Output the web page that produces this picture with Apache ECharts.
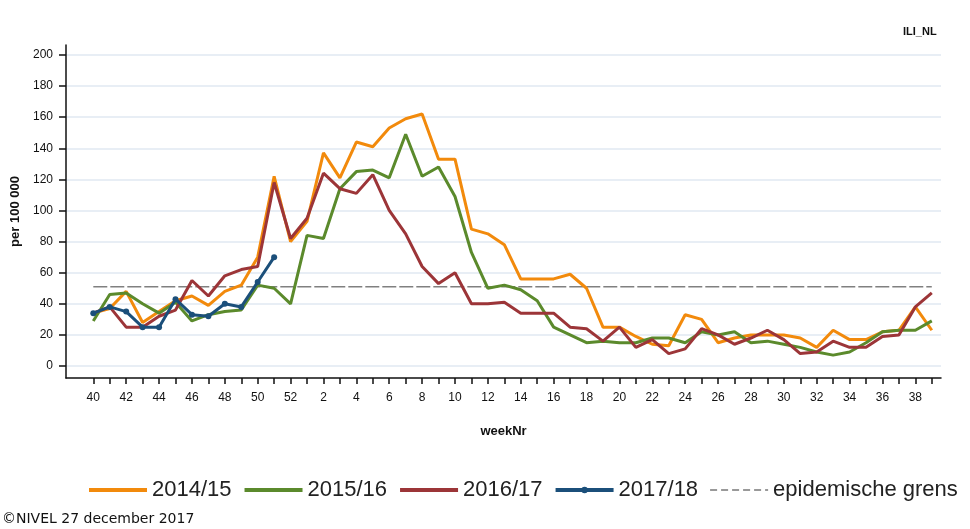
<!DOCTYPE html>
<html>
<head>
<meta charset="utf-8">
<script src="https://cdn.jsdelivr.net/npm/echarts@6/dist/echarts.min.js"></script>
<style>
html,body{margin:0;padding:0;background:#fff;}
#chart{width:970px;height:529px;}
</style>
</head>
<body>
<div id="chart"></div>
<script>
// Week labels (season runs week 40 .. week 39)
const weeks = [40,41,42,43,44,45,46,47,48,49,50,51,52,1,2,3,4,5,6,7,8,9,10,11,12,13,14,15,16,17,18,19,20,21,22,23,24,25,26,27,28,29,30,31,32,33,34,35,36,37,38,39];
const tickLabelWeeks = [40,42,44,46,48,50,52,2,4,6,8,10,12,14,16,18,20,22,24,26,28,30,32,34,36,38];
const yTicks = [0,20,40,60,80,100,120,140,160,180,200];

const s2014 = [34,37,48,28,35,42,45,39,48,52,70,122,80,93,137,121,144,141,153,159,162,133,133,88,85,78,56,56,56,59,50,25,25,19,14,13,33,30,15,18,20,20,20,18,12,23,17,17,22,23,38,23];
const s2015 = [29,46,47,40,34,41,29,33,35,36,52,50,40,84,82,114,125,126,121,149,122,128,109,73,50,52,49,42,25,20,15,16,15,15,18,18,15,22,20,22,15,16,14,12,9,7,9,15,22,23,23,29];
const s2016 = [34,38,25,25,32,36,55,45,58,62,64,118,82,95,124,114,111,123,100,85,64,53,60,40,40,41,34,34,34,25,24,16,25,12,17,8,11,24,20,14,18,23,17,8,9,16,12,12,19,20,38,47];
const s2017 = [34,38,35,25,25,43,33,32,40,38,54,70];
const epidemicThreshold = 51;

const seriesNames = ['2014/15','2015/16','2016/17','2017/18','epidemische grens'];

function pairs(arr){ return arr.map((v,i)=>[i,v]); }
const weekIndex = w => weeks.indexOf(w);

const sans = "'Liberation Sans',Arial,sans-serif";

const chart = echarts.init(document.getElementById('chart'), null, {renderer:'canvas'});
chart.setOption({
  animation:false,
  backgroundColor:'#ffffff',
  grid:{left:66, right:29, top:45, bottom:151, containLabel:false},
  xAxis:{
    type:'value', min:-1.66, max:51.56,
    name:'weekNr', nameLocation:'middle', nameGap:47,
    nameTextStyle:{fontFamily:sans, fontSize:13, color:'#111', fontWeight:'bold'},
    axisLine:{show:true, onZero:false, lineStyle:{color:'#111', width:1.5}},
    axisTick:{show:true, inside:false, length:6, lineStyle:{color:'#111', width:1.5},
      customValues: weeks.map((w,i)=>i)},
    axisLabel:{fontFamily:sans, fontSize:12, color:'#111', margin:14,
      customValues: tickLabelWeeks.map(weekIndex),
      formatter: v => String(weeks[Math.round(v)])},
    splitLine:{show:false}
  },
  yAxis:{
    type:'value', min:-7.7, max:206.4,
    name:'per 100 000', nameLocation:'middle', nameGap:41, nameRotate:90,
    nameTextStyle:{fontFamily:sans, fontSize:13, color:'#111', fontWeight:'bold'},
    axisLine:{show:true, onZero:false, lineStyle:{color:'#111', width:1.5}},
    axisTick:{show:true, length:7, lineStyle:{color:'#111', width:1.5}, customValues:yTicks},
    axisLabel:{fontFamily:sans, fontSize:12, color:'#111', margin:13, customValues:yTicks},
    splitLine:{show:true, lineStyle:{color:'#e8eef5', width:2}}
  },
  legend:{
    left:82, top:474,
    itemWidth:58, itemHeight:8, itemGap:11,
    textStyle:{fontFamily:sans, fontSize:22, color:'#222'},
    data:[
      {name:seriesNames[0], itemStyle:{opacity:0}, lineStyle:{width:4}},
      {name:seriesNames[1], itemStyle:{opacity:0}, lineStyle:{width:4}},
      {name:seriesNames[2], itemStyle:{opacity:0}, lineStyle:{width:4}},
      {name:seriesNames[3], lineStyle:{width:4}},
      {name:seriesNames[4], itemStyle:{opacity:0}, lineStyle:{width:2, type:[7,4], color:'#999'}}
    ]
  },
  series:[
    {name:seriesNames[0], type:'line', data:pairs(s2014), symbol:'none', lineStyle:{color:'#f28a0c', width:3}, itemStyle:{color:'#f28a0c'}, z:3},
    {name:seriesNames[1], type:'line', data:pairs(s2015), symbol:'none', lineStyle:{color:'#5b8a2c', width:3}, itemStyle:{color:'#5b8a2c'}, z:4},
    {name:seriesNames[2], type:'line', data:pairs(s2016), symbol:'none', lineStyle:{color:'#9c3538', width:3}, itemStyle:{color:'#9c3538'}, z:5},
    {name:seriesNames[3], type:'line', data:pairs(s2017), symbol:'circle', symbolSize:6, showSymbol:true, lineStyle:{color:'#1b4f7a', width:3}, itemStyle:{color:'#1b4f7a'}, z:6},
    {name:seriesNames[4], type:'line', data:[[0,epidemicThreshold],[weeks.length-1,epidemicThreshold]], symbol:'none', lineStyle:{color:'#808080', width:1.5, type:[14,3]}, itemStyle:{color:'#808080'}, z:2}
  ],
  graphic:[
    {type:'text', left:903, top:26, style:{text:'ILI_NL', fontFamily:sans, fontSize:11, fontWeight:'bold', fill:'#111'}},
    {type:'text', left:2, top:512, style:{text:'©NIVEL 27 december 2017', fontFamily:"'DejaVu Sans',sans-serif", fontSize:14, fill:'#111'}}
  ]
});
</script>
</body>
</html>
